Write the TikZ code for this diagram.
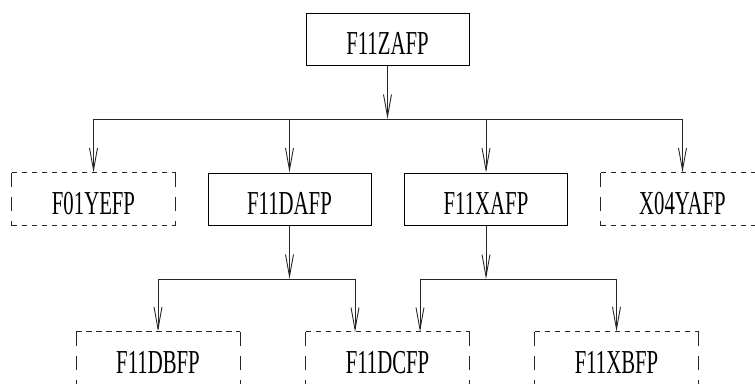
\documentclass[tikz,border=0pt]{standalone}
\usepackage{fontspec}
\newfontfamily\lblfont[FakeStretch=0.62]{Liberation Serif}
\usetikzlibrary{arrows.meta}
\begin{document}
\begin{tikzpicture}[x=1pt,y=-1pt, line width=1pt,
  boxshape/.style={rectangle, minimum width=163pt, minimum height=52pt, inner sep=0pt,
    text height=31pt, text depth=0pt, font=\lblfont\fontsize{33.5}{33.5}\selectfont},
  solidbox/.style={boxshape, draw},
  dashbox/.style={boxshape},
  conn/.style={draw=black!85},
  arr/.style={conn, -{Straight Barb[length=22pt,width=8pt,line width=0.9pt]}},
  hdash/.style={draw=black!85, dash pattern=on 5.5pt off 4.5pt},
  vdash/.style={draw=black!85, dash pattern=on 14pt off 10pt}]
\useasboundingbox (0,0) rectangle (755,383);
\clip (0,0) rectangle (755,383);

% nodes
\node[solidbox] (zafp) at (387.5,39) {F11ZAFP};
\node[dashbox] (yefp) at (93.5,199) {F01YEFP};
\node[solidbox] (dafp) at (289.5,199) {F11DAFP};
\node[solidbox] (xafp) at (486,199) {F11XAFP};
\node[dashbox] (yafp) at (682.5,199) {X04YAFP};
\node[dashbox] (dbfp) at (158,358) {F11DBFP};
\node[dashbox] (dcfp) at (387.5,358) {F11DCFP};
\node[dashbox] (xbfp) at (616.5,358) {F11XBFP};

% dashed outlines
\foreach \n in {yefp,yafp,dbfp,dcfp,xbfp}{
  \draw[hdash] (\n.north west) -- (\n.north east);
  \draw[hdash] (\n.south west) -- (\n.south east);
  \draw[vdash] (\n.north west) -- (\n.south west);
  \draw[vdash] (\n.north east) -- (\n.south east);
}

% bus coordinates
\coordinate (bus1) at (387.5,119);
\coordinate (bus2a) at (289.5,279);
\coordinate (bus2b) at (486,279);
\coordinate (dcl) at (355,332);
\coordinate (dcr) at (420,332);

% level 1 -> 2
\draw[arr] (zafp.south) -- (bus1);
\draw[conn] (yefp.north |- bus1) -- (yafp.north |- bus1);
\draw[arr] (yefp.north |- bus1) -- (yefp.north);
\draw[arr] (dafp.north |- bus1) -- (dafp.north);
\draw[arr] (xafp.north |- bus1) -- (xafp.north);
\draw[arr] (yafp.north |- bus1) -- (yafp.north);

% F11DAFP -> 3
\draw[arr] (dafp.south) -- (bus2a);
\draw[conn] (dbfp.north |- bus2a) -- (dcl |- bus2a);
\draw[arr] (dbfp.north |- bus2a) -- (dbfp.north);
\draw[arr] (dcl |- bus2a) -- (dcl);

% F11XAFP -> 3
\draw[arr] (xafp.south) -- (bus2b);
\draw[conn] (dcr |- bus2b) -- (xbfp.north |- bus2b);
\draw[arr] (dcr |- bus2b) -- (dcr);
\draw[arr] (xbfp.north |- bus2b) -- (xbfp.north);
\end{tikzpicture}
\end{document}
